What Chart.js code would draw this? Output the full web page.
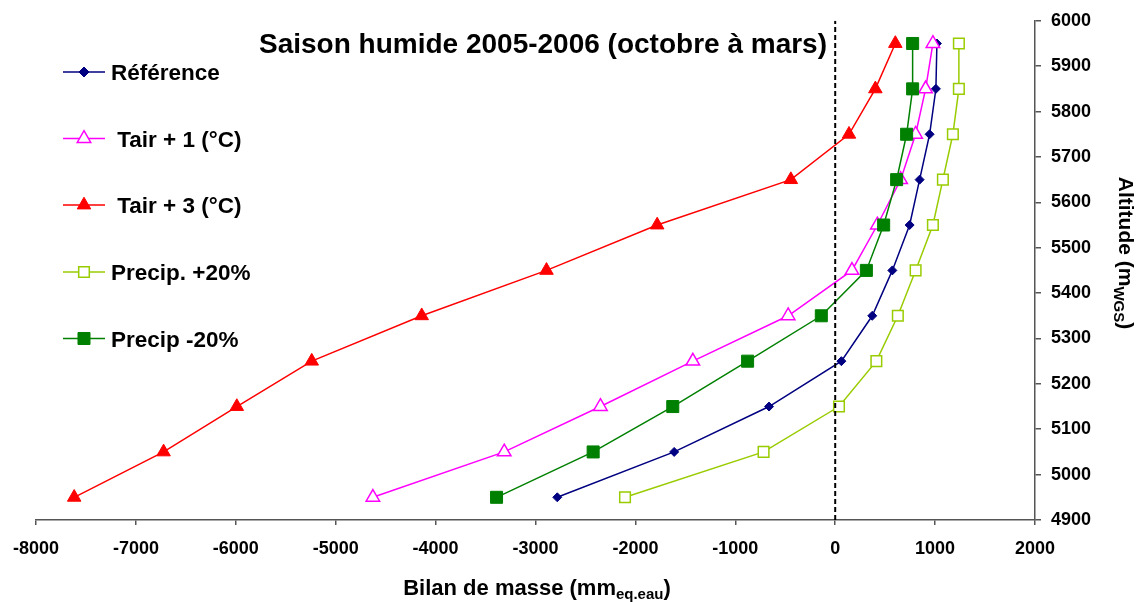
<!DOCTYPE html>
<html>
<head>
<meta charset="utf-8">
<script src="https://cdn.jsdelivr.net/npm/chart.js@4.4.1/dist/chart.umd.min.js"></script>
<style>
  html, body { margin: 0; padding: 0; background: #ffffff; }
  #wrap { width: 1143px; height: 602px; position: relative; }
</style>
</head>
<body>
<div id="wrap"><canvas id="chart" width="1143" height="602"></canvas></div>
<script>
// Altitude bands (m) and winter mass balance per band (mm w.e.)
const altitudes   = [4950, 5050, 5150, 5250, 5350, 5450, 5550, 5650, 5750, 5850, 5950];
const reference   = [-2782, -1612, -662, 62, 371, 572, 745, 845, 945, 1008, 1018];
const tairPlus1   = [-4628, -3313, -2350, -1425, -471, 168, 422, 655, 805, 905, 978];
const tairPlus3   = [-7618, -6723, -5990, -5240, -4139, -2890, -1782, -444, 138, 402, 602];
const precipPlus  = [-2104, -717, 38, 412, 627, 805, 978, 1078, 1178, 1238, 1238];
const precipMinus = [-3390, -2423, -1626, -877, -139, 312, 485, 615, 715, 775, 775];

const seriesNames = ['Référence', ' Tair + 1 (°C)', ' Tair + 3 (°C)', 'Precip. +20%', 'Precip -20%'];

// Equilibrium (zero balance) reference line
const zeroBalance = 0;
const zeroSpan = [4900, 6000];

const xRange = [-8000, 2000];
const yRange = [4900, 6000];

const FONT = '"Liberation Sans", Arial, Helvetica, sans-serif';

const toPoints = vals => vals.map((v, i) => ({ x: v, y: altitudes[i] }));

function series(label, vals, color, style, radius, filled, order) {
  return {
    label,
    data: toPoints(vals),
    showLine: true,
    borderColor: color,
    borderWidth: 1.5,
    pointStyle: style,
    pointRadius: radius,
    pointHoverRadius: radius,
    pointBackgroundColor: filled ? color : '#ffffff',
    pointBorderColor: color,
    pointBorderWidth: filled ? 1 : 1.5,
    order
  };
}

const datasets = [
  series(seriesNames[0], reference,   '#000080', 'rectRot',  4.5, true,  5),
  series(seriesNames[1], tairPlus1,   '#ff00ff', 'triangle', 7.8, false, 4),
  series(seriesNames[2], tairPlus3,   '#ff0000', 'triangle', 7.8, true,  3),
  series(seriesNames[3], precipPlus,  '#99cc00', 'rect',     7.5, false, 2),
  series(seriesNames[4], precipMinus, '#008000', 'rect',     8.5, true,  1),
  {
    label: 'zero',
    data: zeroSpan.map(a => ({ x: zeroBalance, y: a })),
    showLine: true,
    borderColor: '#000000',
    borderWidth: 2,
    borderDash: [5, 3],
    pointRadius: 0,
    order: 0
  }
];

// Draws text pieces in a row, the middle one as a subscript
function subscripted(ctx, parts, cx, baseline, bigF, smallF, drop) {
  const fonts = [bigF, smallF, bigF];
  const widths = parts.map((p, i) => { ctx.font = fonts[i]; return ctx.measureText(p).width; });
  let x = cx - widths.reduce((a, b) => a + b, 0) / 2;
  parts.forEach((p, i) => {
    ctx.font = fonts[i];
    ctx.fillText(p, x, baseline + (i === 1 ? drop : 0));
    x += widths[i];
  });
}

// Title, stacked legend and axis titles with subscripts
const decorations = {
  id: 'decorations',
  afterDraw(chart) {
    const ctx = chart.ctx;
    ctx.save();
    ctx.fillStyle = '#000';
    ctx.textBaseline = 'alphabetic';
    ctx.textAlign = 'left';

    // Title
    ctx.font = `bold 28px ${FONT}`;
    ctx.fillText('Saison humide 2005-2006 (octobre à mars)', 259, 53);

    // Legend
    const rowY = [72, 138.5, 205, 272, 338.5];
    chart.data.datasets.slice(0, 5).forEach((ds, i) => {
      const y = rowY[i];
      ctx.strokeStyle = ds.borderColor;
      ctx.lineWidth = 1.5;
      ctx.beginPath();
      ctx.moveTo(63, y);
      ctx.lineTo(105, y);
      ctx.stroke();
      ctx.fillStyle = ds.pointBackgroundColor;
      ctx.strokeStyle = ds.pointBorderColor;
      ctx.lineWidth = ds.pointBorderWidth;
      Chart.helpers.drawPoint(ctx, {
        pointStyle: ds.pointStyle,
        radius: ds.pointStyle === 'rectRot' ? 5 : ds.pointRadius,
        rotation: 0,
        borderWidth: ds.pointBorderWidth
      }, 84, y);
      ctx.fillStyle = '#000';
      ctx.font = `bold 22.5px ${FONT}`;
      ctx.fillText(ds.label, 111, y + 8);
    });

    const bigF = `bold 22px ${FONT}`;
    const smallF = `bold 15px ${FONT}`;

    // X axis title
    subscripted(ctx, ['Bilan de masse (mm', 'eq.eau', ')'], 537, 595, bigF, smallF, 4);

    // Y axis title, rotated to read downwards
    ctx.save();
    ctx.translate(1119, 253);
    ctx.rotate(Math.PI / 2);
    subscripted(ctx, ['Altitude (m', 'WGS', ')'], 0, 0, `bold 21px ${FONT}`, `bold 15px ${FONT}`, 5);
    ctx.restore();

    ctx.restore();
  }
};

const axisColor = '#555555';
const tickFont = { family: FONT, size: 18, weight: 'bold' };

new Chart(document.getElementById('chart'), {
  type: 'scatter',
  data: { datasets },
  options: {
    responsive: false,
    animation: false,
    devicePixelRatio: 1,
    layout: { padding: { left: 35, top: 17, right: 0, bottom: 0 } },
    plugins: { legend: { display: false }, tooltip: { enabled: false } },
    scales: {
      x: {
        type: 'linear',
        position: 'bottom',
        min: xRange[0],
        max: xRange[1],
        afterFit: s => { s.height = 82; },
        ticks: {
          stepSize: 1000,
          color: '#000',
          padding: 13,
          maxRotation: 0,
          font: tickFont,
          callback: v => String(v)
        },
        grid: { display: true, drawOnChartArea: false, drawTicks: true, tickLength: 5, color: axisColor, lineWidth: 1.5 },
        border: { display: true, color: axisColor, width: 1.5 }
      },
      y: {
        type: 'linear',
        position: 'right',
        min: yRange[0],
        max: yRange[1],
        afterFit: s => { s.width = 108; },
        ticks: {
          stepSize: 100,
          color: '#000',
          padding: 10,
          font: tickFont,
          callback: v => String(v)
        },
        grid: { display: true, drawOnChartArea: false, drawTicks: true, tickLength: 6, color: axisColor, lineWidth: 1.5 },
        border: { display: true, color: axisColor, width: 1.5 }
      }
    }
  },
  plugins: [decorations]
});
</script>
</body>
</html>
